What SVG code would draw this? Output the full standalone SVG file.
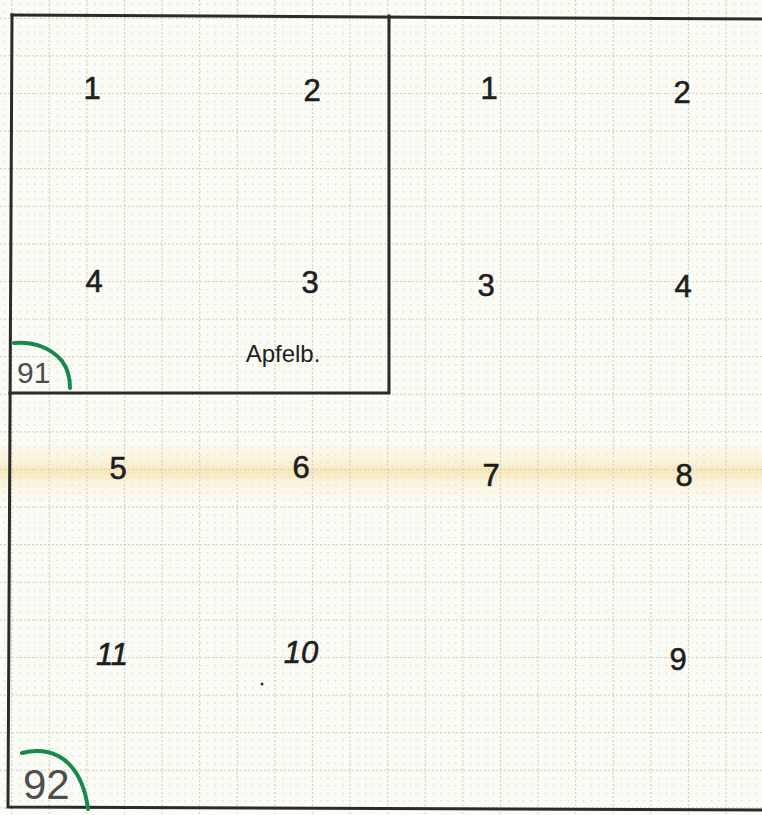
<svg xmlns="http://www.w3.org/2000/svg" width="762" height="815" viewBox="0 0 762 815">
  <defs>
    <pattern id="minor" x="11.6" y="18.2" width="7.52" height="7.52" patternUnits="userSpaceOnUse">
      <rect x="0" y="0" width="1.1" height="1.1" fill="#cdc9b4"/>
    </pattern>
    <linearGradient id="band" x1="0" y1="0" x2="0" y2="1">
      <stop offset="0" stop-color="#f7e7b4" stop-opacity="0"/>
      <stop offset="0.35" stop-color="#f6e2a6" stop-opacity="0.35"/>
      <stop offset="0.52" stop-color="#f2d68c" stop-opacity="0.55"/>
      <stop offset="0.65" stop-color="#f6e2a6" stop-opacity="0.35"/>
      <stop offset="1" stop-color="#f7e7b4" stop-opacity="0"/>
    </linearGradient>
  </defs>
  <style>
    .g { stroke: #d3cfba; stroke-width: 1; stroke-dasharray: 2 2; fill: none; }
    .frame { stroke: #2b2b2b; stroke-width: 3; fill: none; stroke-linecap: square; }
    .num { font-family: "Liberation Sans", "DejaVu Sans", sans-serif; font-size: 31px; fill: #1e1e1e; text-anchor: middle; stroke: #1e1e1e; stroke-width: 0.6; }
    .lbl { font-family: "Liberation Sans", "DejaVu Sans", sans-serif; font-size: 24px; fill: #222; text-anchor: middle; }
    .bed { font-family: "Liberation Sans", "DejaVu Sans", sans-serif; fill: #4d4d4d; }
    .arc { stroke: #17894a; stroke-width: 4; fill: none; stroke-linecap: round; }
  </style>

  <g id="paper">
    <rect x="0" y="0" width="762" height="815" fill="#fcfcf7"/>
    <rect x="0" y="0" width="762" height="815" fill="url(#minor)"/>
    <rect x="0" y="438" width="762" height="66" fill="url(#band)"/>
  </g>

  <g id="grid">
    <path class="g" d="M11.6,0V815 M49.2,0V815 M86.8,0V815 M124.4,0V815 M162,0V815 M199.6,0V815 M237.2,0V815 M274.8,0V815 M312.4,0V815 M350,0V815 M387.6,0V815 M425.2,0V815 M462.8,0V815 M500.4,0V815 M538,0V815 M575.6,0V815 M613.2,0V815 M650.8,0V815 M688.4,0V815 M726,0V815"/>
    <path class="g" d="M0,18.2H762 M0,55.8H762 M0,93.4H762 M0,131H762 M0,168.6H762 M0,206.2H762 M0,243.8H762 M0,281.4H762 M0,319H762 M0,356.6H762 M0,394.2H762 M0,431.8H762 M0,469.4H762 M0,507H762 M0,544.6H762 M0,582.2H762 M0,619.8H762 M0,657.4H762 M0,695H762 M0,732.6H762 M0,770.2H762 M0,807.8H762"/>
  </g>

  <g id="connectors">
    <path class="frame" d="M12,15 L762,19"/>
    <path class="frame" d="M12,15 L8,807 L762,810"/>
    <path class="frame" d="M389,16 L389,393 L10,393"/>
  </g>

  <g id="bed-91">
    <path class="arc" d="M14,343 C35,341 52,349 62,361 C68,369 70,380 70,388"/>
    <text class="bed" x="17" y="383" font-size="30">91</text>
  </g>

  <g id="bed-92">
    <path class="arc" d="M22,753 C40,748 58,752 70,765 C81,777 86,793 88,809"/>
    <text class="bed" x="23" y="799" font-size="42">92</text>
  </g>

  <g id="apfelbeet">
    <text class="num" x="92" y="99">1</text>
    <text class="num" x="312" y="101">2</text>
    <text class="num" x="94" y="292">4</text>
    <text class="num" x="310" y="293">3</text>
    <text class="lbl" x="283" y="362">Apfelb.</text>
  </g>

  <g id="top-right">
    <text class="num" x="489" y="99">1</text>
    <text class="num" x="682" y="103">2</text>
    <text class="num" x="486" y="296">3</text>
    <text class="num" x="683" y="297">4</text>
  </g>

  <g id="middle-row">
    <text class="num" x="118" y="479">5</text>
    <text class="num" x="301" y="478">6</text>
    <text class="num" x="491" y="486">7</text>
    <text class="num" x="684" y="486">8</text>
  </g>

  <g id="bottom-row">
    <text class="num" x="112" y="665" font-style="italic">11</text>
    <text class="num" x="301" y="663" font-style="italic">10</text>
    <text class="num" x="678" y="670">9</text>
    <circle cx="262" cy="684" r="1.5" fill="#333"/>
  </g>
</svg>
